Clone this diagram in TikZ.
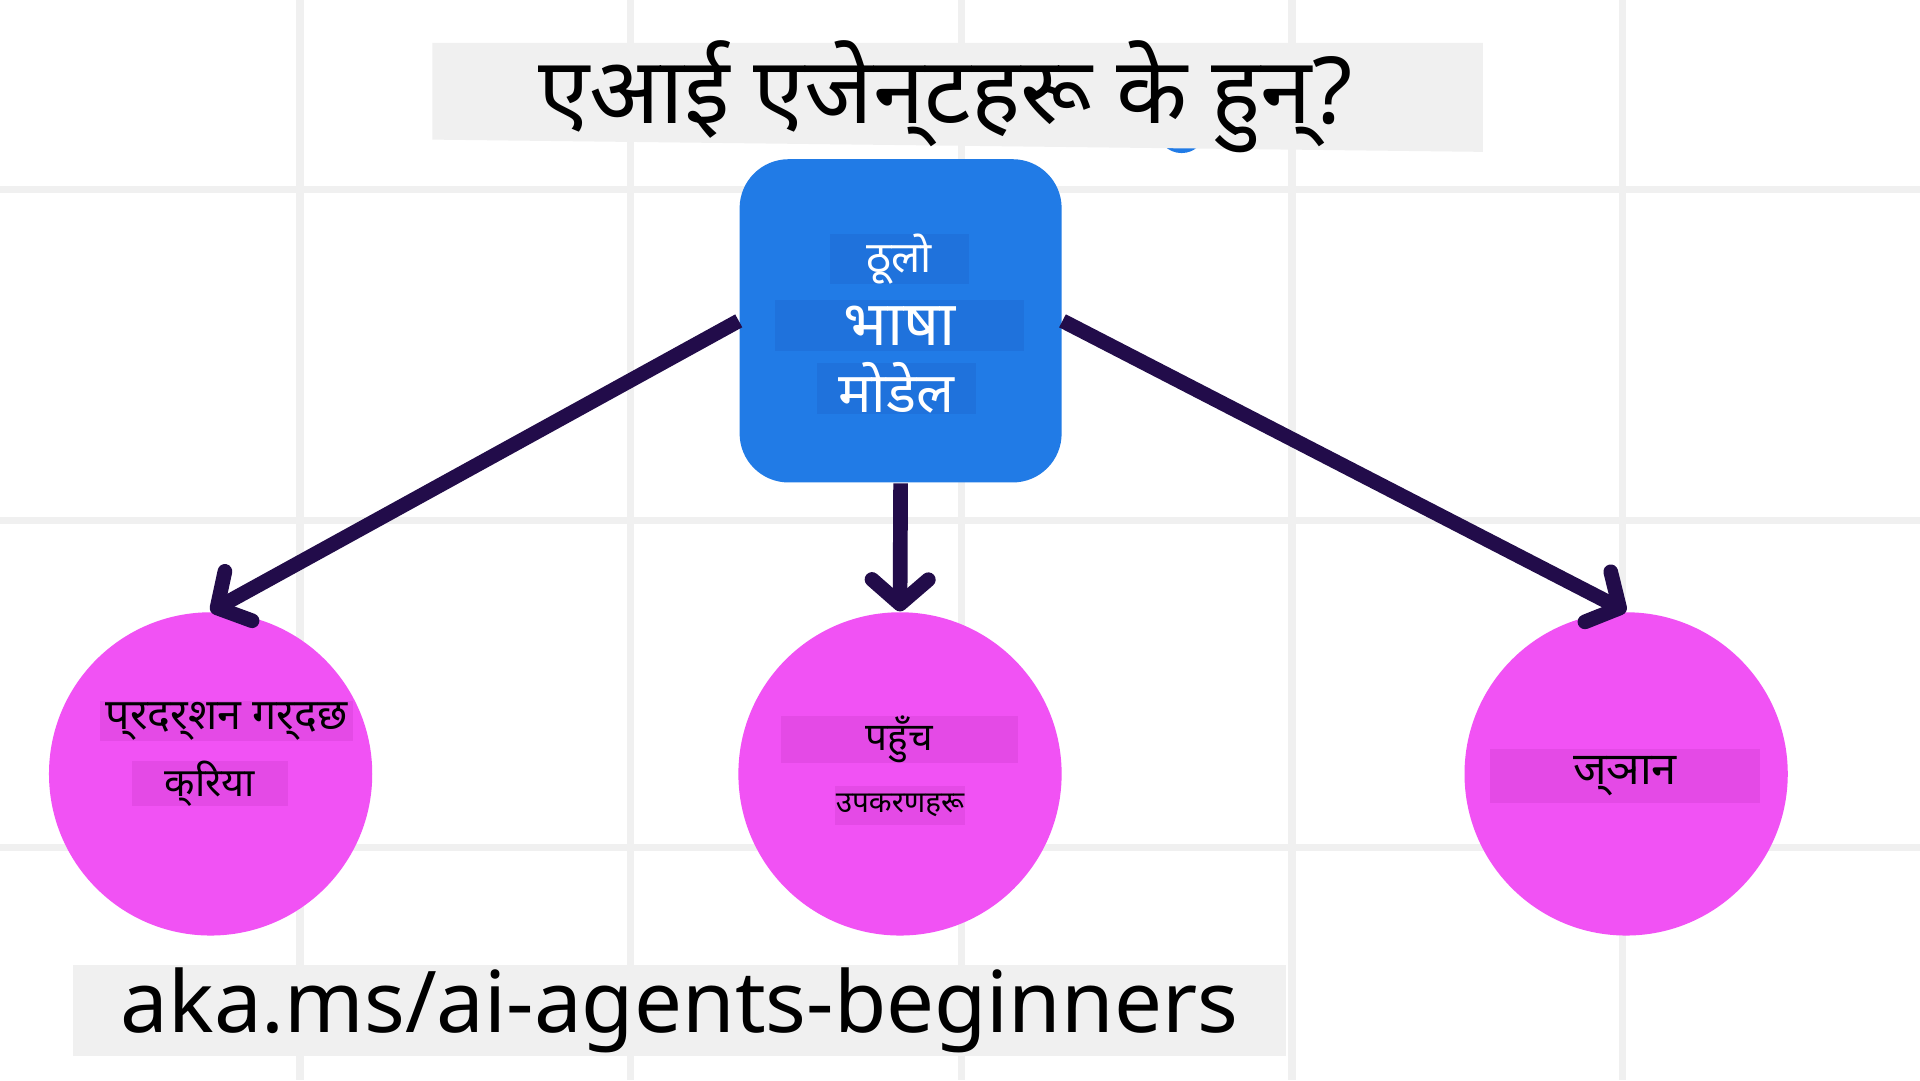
\documentclass[tikz,border=0pt]{standalone}
\usepackage{fontspec}
\setmainfont{Noto Sans}
\newfontfamily\deva[Script=Devanagari]{Noto Sans}
\usetikzlibrary{arrows.meta}
\definecolor{gridgray}{HTML}{F0F0F0}
\definecolor{llmblue}{HTML}{217BE6}
\definecolor{llmlabel}{HTML}{1F72DC}
\definecolor{bubblepink}{HTML}{F152F4}
\definecolor{pinklabel}{HTML}{E44AE6}
\definecolor{arrowpurple}{HTML}{220C4A}

\begin{document}
\begin{tikzpicture}[
  gridline/.style={gridgray, line width=0.06cm},
  llmbox/.style={fill=llmblue, rounded corners=0.4cm, minimum width=2.63cm, minimum height=2.64cm, inner sep=0pt},
  bubble/.style={circle, fill=bubblepink, minimum size=2.64cm, inner sep=0pt},
  bluetag/.style={fill=llmlabel, text=white, inner sep=0pt},
  pinktag/.style={fill=pinklabel, text=black, inner sep=0pt},
  link/.style={arrowpurple, line width=0.12cm, -{Straight Barb[round, length=2.0mm, width=4.6mm]}}
]
            \useasboundingbox[fill=white] (0,0) rectangle (15.68,-8.82);

            \foreach \x in {2.45,5.15,7.85,10.55,13.25}
                \draw[gridline] (\x,0) -- (\x,-8.82);
            \foreach \y in {-1.55,-4.25,-6.92}
                \draw[gridline] (0,\y) -- (15.68,\y);

            \fill[llmblue] (9.65,-1.05) circle (0.2);
            \fill[gridgray] (3.53,-0.35) -- (12.11,-0.35) -- (12.11,-1.24) -- (3.53,-1.14) -- cycle;
            \node[font=\deva\fontsize{21.5pt}{24pt}\selectfont] (title) at (7.72,-0.79) {एआई एजेन्^^^^200cटहरू के हुन्?};

            \node[llmbox] (llm) at (7.355,-2.62) {};
            \node[bluetag, minimum width=1.13cm, minimum height=0.39cm, font=\deva\fontsize{10pt}{12pt}\selectfont] (big) at (7.345,-2.115) {ठूलो};
            \node[bluetag, minimum width=2.03cm, minimum height=0.42cm, font=\deva\fontsize{14.5pt}{16pt}\selectfont] (language) at (7.345,-2.66) {भाषा};
            \node[bluetag, minimum width=1.30cm, minimum height=0.40cm, font=\deva\fontsize{13pt}{15pt}\selectfont] (model) at (7.32,-3.17) {मोडेल};

            \node[bubble] (act) at (1.72,-6.32) {};
            \node[bubble] (tools) at (7.35,-6.32) {};
            \node[bubble] (know) at (13.28,-6.32) {};

            \node[pinktag, minimum width=2.06cm, minimum height=0.33cm, font=\deva\fontsize{10pt}{12pt}\selectfont] (perform) at (1.85,-5.89) {प्^^^^200cरदर्^^^^200cशन गर्^^^^200cदछ};
            \node[pinktag, minimum width=1.27cm, minimum height=0.34cm, font=\deva\fontsize{9.2pt}{11pt}\selectfont] (action) at (1.715,-6.40) {क्^^^^200cरिया};
            \node[pinktag, minimum width=1.93cm, minimum height=0.34cm, font=\deva\fontsize{9pt}{11pt}\selectfont] (access) at (7.345,-6.04) {पहुँच};
            \node[pinktag, minimum width=1.06cm, minimum height=0.32cm, font=\deva\fontsize{6.9pt}{8pt}\selectfont] (toolset) at (7.35,-6.58) {उपकरणहरू};
            \node[pinktag, minimum width=2.20cm, minimum height=0.44cm, font=\deva\fontsize{10.5pt}{12pt}\selectfont] (knowledge) at (13.27,-6.34) {ज्^^^^200cञान};

            \draw[link] (llm.west) -- (act.north);
            \draw[link] (llm.south) -- (tools.north);
            \draw[link] (llm.east) -- (know.north);

            \node[fill=gridgray, minimum width=9.9cm, minimum height=0.74cm, inner sep=0pt, text=black, font=\fontsize{19.8pt}{22pt}\selectfont] (url) at (5.55,-8.25) {aka.ms/ai-agents-beginners};
        \end{tikzpicture}
\end{document}
